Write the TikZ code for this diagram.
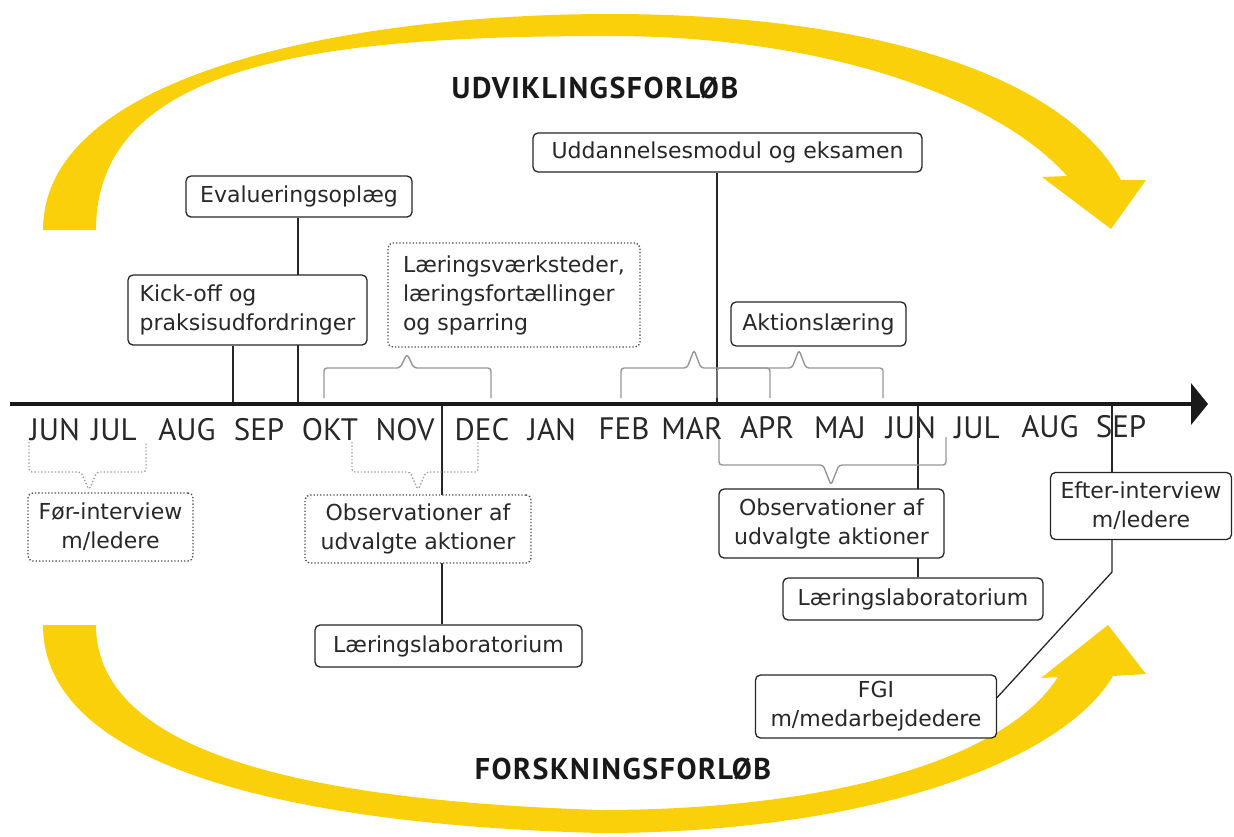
\documentclass[tikz,border=0pt]{standalone}
\usepackage{fontspec}
\setmainfont{DejaVu Sans}
\newfontfamily\titlefont{PT Sans}
\newfontfamily\titlefontsp{PT Sans}[LetterSpace=5]
\usetikzlibrary{backgrounds}
\definecolor{arcyellow}{RGB}{250,208,10}
\definecolor{txt}{RGB}{40,40,40}
\definecolor{bracegray}{RGB}{150,150,150}
\definecolor{dotgray}{RGB}{160,160,160}
\begin{document}
\begin{tikzpicture}[x=1pt,y=-1pt,
  box/.style={draw=black!85, line width=1.3pt, rounded corners=5pt, fill=white, inner sep=0pt,
    text=txt, font=\fontsize{22}{29}\selectfont, align=center},
  dotbox/.style={box, draw=black!70, dotted, line width=1.4pt},
  month/.style={font=\titlefont\fontsize{31}{36}\selectfont, text=txt, inner sep=0pt, anchor=base},
  title/.style={font=\titlefontsp\bfseries\fontsize{30}{36}\selectfont, text=black!90, inner sep=0pt},
  conn/.style={draw=black!85, line width=1.3pt},
  bracel/.style={draw=bracegray, line width=1.4pt, rounded corners=3pt},
  dotbrace/.style={draw=dotgray, line width=1.4pt, dotted, rounded corners=3pt}]
\useasboundingbox (0,0) rectangle (1234,836);

% boxes
\node[box, minimum width=226pt, minimum height=41pt] (evalu) at (299,196.5) {Evalueringsoplæg};
\node[box, minimum width=239pt, minimum height=70pt, align=left] (kick) at (247.5,310) {Kick-off og\\praksisudfordringer};
\node[dotbox, minimum width=252pt, minimum height=104pt, align=left] (laer) at (514,295) {Læringsværksteder,\\læringsfortællinger\\og sparring};
\node[box, minimum width=389pt, minimum height=39pt] (udd) at (727.5,152.5) {Uddannelsesmodul og eksamen};
\node[box, minimum width=175pt, minimum height=44pt] (akt) at (818.5,324) {Aktionslæring};
\node[dotbox, minimum width=165pt, minimum height=68pt] (foer) at (110.5,527) {Før-interview\\m/ledere};
\node[dotbox, minimum width=226pt, minimum height=68pt] (obs1) at (418,529) {Observationer af\\udvalgte aktioner};
\node[box, minimum width=267pt, minimum height=42pt] (lab1) at (448.5,646) {Læringslaboratorium};
\node[box, minimum width=225pt, minimum height=69pt] (obs2) at (831.5,523.5) {Observationer af\\udvalgte aktioner};
\node[box, minimum width=260pt, minimum height=42pt] (lab2) at (913,599) {Læringslaboratorium};
\node[box, minimum width=181pt, minimum height=67pt] (efter) at (1141,506) {Efter-interview\\m/ledere};
\node[box, minimum width=241pt, minimum height=63pt] (fgi) at (876,706.5) {FGI\\m/medarbejdedere};

% titles
\node[title] (t1) at (595,88) {UDVIKLINGSFORLØB};
\node[title] (t2) at (623,769) {FORSKNINGSFORLØB};

% months
\foreach \n/\x/\y/\m in {m1/55/440/JUN, m2/114/440/JUL, m3/187/440/AUG, m4/259/440/SEP, m5/330/440/OKT, m6/405/440/NOV,
  m7/482/440/DEC, m8/552/440/JAN, m9/624/439/FEB, m10/692/439/MAR, m11/767/438/APR, m12/840/438/MAJ, m13/911/438/JUN,
  m14/977/438/JUL, m15/1050/437/AUG, m16/1121/437/SEP}
  \node[month] (\n) at (\x,\y) {\m};

% axis coordinates
\coordinate (a0) at (10,404);
\coordinate (aend) at (1195,404);
\coordinate (atip) at (1208,404);
\coordinate (k233) at (233,404);
\coordinate (k298) at (298,404);
\coordinate (t442) at (442,404);
\coordinate (t717) at (717,404);
\coordinate (t918) at (918,404);
\coordinate (t1112) at (1112,404);
\coordinate (bend) at (1112,572);

\begin{pgfonlayer}{background}
% yellow arcs
\fill[arcyellow] (43,230) .. controls (43,70) and (360,14) .. (610,14)
  .. controls (860,14) and (1060,70) .. (1121,180) -- (1146,180) -- (1111,229) -- (1042,177) -- (1067,176)
  .. controls (1000,100) and (830,36) .. (610,36)
  .. controls (330,36) and (96,60) .. (96,230) -- cycle;
\fill[arcyellow] (43,625) .. controls (43,770) and (300,825) .. (600,833)
  .. controls (860,833) and (1060,765) .. (1113,676) -- (1146,674) -- (1108,625) -- (1041,678) -- (1058,677)
  .. controls (1005,760) and (830,810) .. (600,810)
  .. controls (330,801) and (96,760) .. (96,625) -- cycle;

% connectors
\draw[conn] (evalu.south -| k298) -- (k298);
\draw[conn] (kick.south -| k233) -- (k233);
\draw[conn] (udd.south -| t717) -- (t717);
\draw[conn] (t442) -- (lab1.north -| t442);
\draw[conn] (t918) -- (lab2.north -| t918);
\draw[conn] (t1112) -- (efter.north -| t1112);
\draw[conn] (efter.south -| bend) -- (bend) -- ([yshift=9pt]fgi.east);

% braces above axis
\draw[bracel] (324,398) -- (324,368) -- (400,368) -- (407,354) -- (414,368) -- (491,368) -- (491,398);
\draw[bracel] (621,398) -- (621,368) -- (687,368) -- (694,350) -- (701,368) -- (770,368) -- (770,398);
\draw[bracel] (717,398) -- (717,368) -- (792,368) -- (799,350) -- (806,368) -- (883,368) -- (883,398);
% braces below axis
\draw[dotbrace] (29,442) -- (29,472) -- (81,472) -- (89,490) -- (97,472) -- (146,472) -- (146,442);
\draw[dotbrace] (352,442) -- (352,472) -- (410,472) -- (418,490) -- (426,472) -- (478,472) -- (478,442);
\draw[bracel] (719,437) -- (719,465) -- (823,465) -- (831,485) -- (839,465) -- (946,465) -- (946,437);
\end{pgfonlayer}

% axis
\draw[line width=4pt, black!90] (a0) -- (aend);
\fill[black!90] (1191,383) -- (atip) -- (1191,425) -- cycle;
\end{tikzpicture}
\end{document}
